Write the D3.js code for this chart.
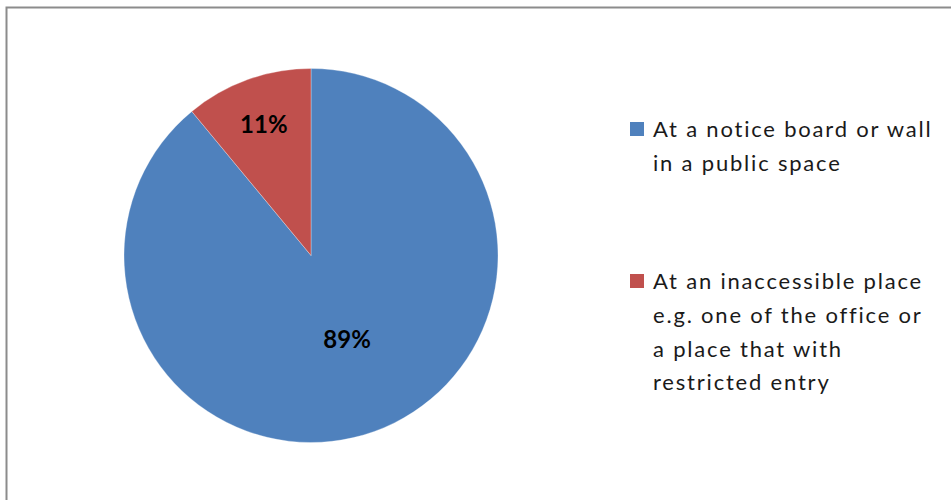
<!DOCTYPE html>
<html>
<head>
<meta charset="utf-8">
<script src="https://cdn.jsdelivr.net/npm/d3@7"></script>
<style>
  html, body { margin: 0; padding: 0; background: #fff; }
  svg { display: block; }
</style>
</head>
<body>
<svg id="chart" width="951" height="500"></svg>
<script>
// Where the notice is displayed — share of responses
const categories = [
  "At a notice board or wall in a public space",
  "At an inaccessible place e.g. one of the office or a place that with restricted entry"
];
const shares = [89, 11];
const percentLabels = ["89%", "11%"];
// Legend text, broken into the lines as they wrap
const legendLines = [
  ["At a notice board or wall", "in a public space"],
  ["At an inaccessible place", "e.g. one of the office or", "a place that with", "restricted entry"]
];
const colors = ["#4F81BD", "#C0504D"];

const svg = d3.select("#chart");

// chart area frame (runs off the right and bottom edges)
svg.append("rect")
  .attr("x", 6.5).attr("y", 7.5)
  .attr("width", 960).attr("height", 520)
  .attr("fill", "#fff")
  .attr("stroke", "#8c8c8c")
  .attr("stroke-width", 2);

const cx = 311, cy = 255.5, radius = 187;

const data = categories.map((c, i) => ({ category: c, value: shares[i], label: percentLabels[i], color: colors[i] }));

const pie = d3.pie().value(d => d.value).sort(null);
const arcs = pie(data);
const arc = d3.arc().innerRadius(0).outerRadius(radius);

const g = svg.append("g").attr("transform", `translate(${cx},${cy})`);

g.selectAll("path.slice")
  .data(arcs)
  .join("path")
  .attr("class", "slice")
  .attr("d", arc)
  .attr("fill", d => d.data.color)
  .attr("stroke", "#ffffff")
  .attr("stroke-opacity", 0.5)
  .attr("stroke-width", 0.6);

// percentage labels placed inside each slice, near its bisector
const labelRadiusFrac = [0.475, 0.745];
const labelShiftX = [6, 0];
g.selectAll("text.pct")
  .data(arcs)
  .join("text")
  .attr("class", "pct")
  .attr("transform", (d, i) => {
    const r = radius * labelRadiusFrac[i];
    const a = (d.startAngle + d.endAngle) / 2;
    return `translate(${Math.sin(a) * r + labelShiftX[i]},${-Math.cos(a) * r})`;
  })
  .attr("text-anchor", "middle")
  .attr("dy", "0.36em")
  .attr("font-family", "Lato, 'Open Sans', sans-serif")
  .attr("font-weight", "bold")
  .attr("font-size", 24)
  .attr("fill", "#000")
  .text(d => d.data.label);

// legend
const legendX = 630, textX = 653;
const legendTop = [137, 289];
const lineStep = 33.8;
const legend = svg.append("g")
  .attr("font-family", "Lato, 'Open Sans', sans-serif")
  .attr("font-size", 22)
  .attr("letter-spacing", 1.8)
  .attr("fill", "#1a1a1a");

data.forEach((d, i) => {
  legend.append("rect")
    .attr("x", legendX).attr("y", legendTop[i] - 15)
    .attr("width", 14).attr("height", 14)
    .attr("fill", d.color);
  legendLines[i].forEach((line, j) => {
    legend.append("text")
      .attr("x", textX)
      .attr("y", legendTop[i] + j * lineStep)
      .text(line);
  });
});
</script>
</body>
</html>
